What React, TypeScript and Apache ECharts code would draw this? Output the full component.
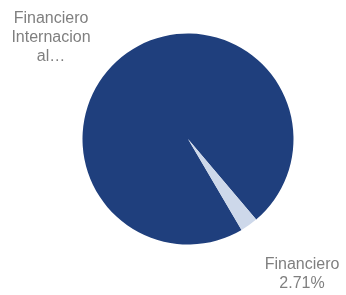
import React, { useEffect, useRef } from "react";
import * as echarts from "echarts";

const categories = ["Financiero Internacional", "Financiero"];
const values = [97.29, 2.71];
const shownLabels = ["Financiero\nInternacion\nal…", "Financiero\n2.71%"];
const colors = ["#1f3f7d", "#cdd8ea"];

export default function App() {
  const ref = useRef<HTMLDivElement>(null);
  useEffect(() => {
    const chart = echarts.init(ref.current!, null, { renderer: "svg" });
    chart.setOption({
      animation: false,
      series: [
        {
          type: "pie",
          center: [188, 139],
          radius: 105.5,
          startAngle: -59.5,
          clockwise: true,
          data: categories.map((name, i) => ({
            name,
            value: values[i],
            itemStyle: { color: colors[i] },
          })),
          label: {
            show: true,
            position: "outside",
            formatter: (p: any) => shownLabels[p.dataIndex],
            color: "#7f7f7f",
            fontFamily: "Liberation Sans, Arial, sans-serif",
            fontSize: 16,
            lineHeight: 19,
            align: "center",
            overflow: "none",
            edgeDistance: 0,
          },
          labelLine: { show: false },
          labelLayout: (p: any) =>
            p.dataIndex === 0
              ? { x: 51, y: 36, align: "center", verticalAlign: "middle" }
              : { x: 302, y: 273, align: "center", verticalAlign: "middle" },
        },
      ],
    });
    return () => chart.dispose();
  }, []);
  return (
    <div
      ref={ref}
      style={{ position: "fixed", left: 0, top: 0, width: 346, height: 295 }}
    />
  );
}
